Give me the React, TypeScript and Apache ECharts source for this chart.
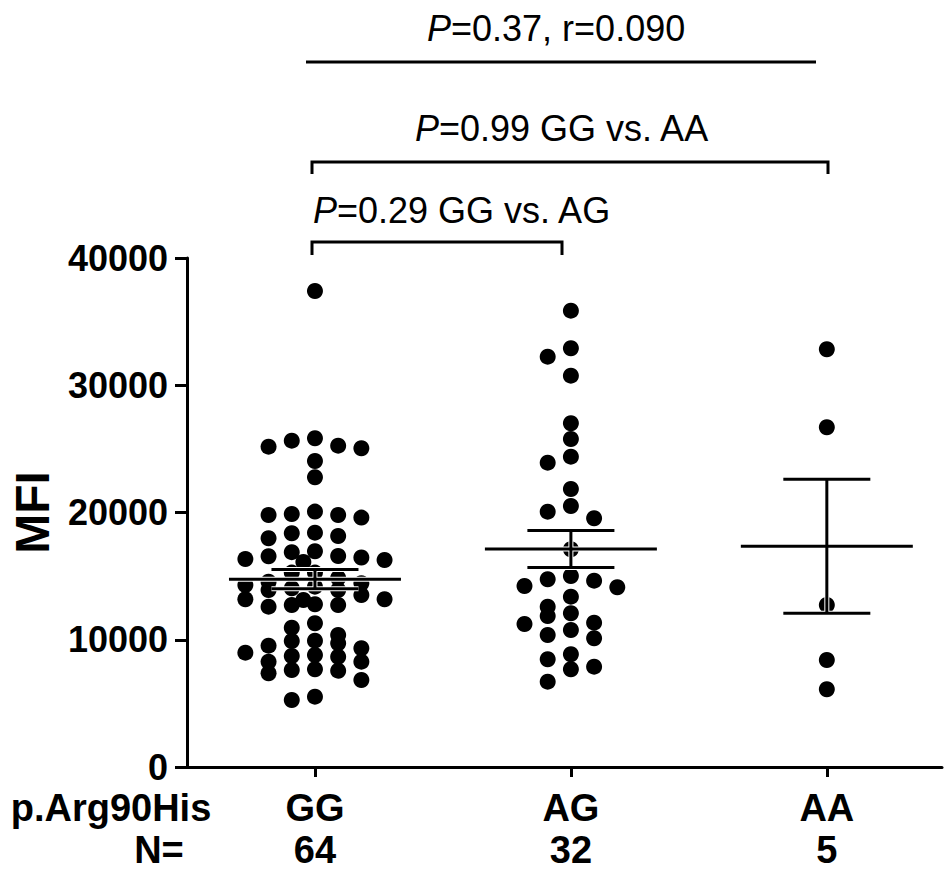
import React, { useEffect, useRef } from "react";
import * as echarts from "echarts";

// ---------- data ----------
const categories = ["GG", "AG", "AA"];
const groupSizes = ["64", "32", "5"];
const yTicks = [0, 10000, 20000, 30000, 40000];

const ggValues = [
  37410, 25645, 25172, 25046, 25251, 25833, 24049, 22767,
  20070, 19600, 19805, 19805, 19883, 18366, 17973, 18154, 18413,
  16582, 16465, 16268, 16952, 16111, 16347, 16559, 16881,
  15280, 14850, 14437, 15280, 14563, 14170, 13911, 13517, 13911, 14044, 14303,
  13180, 12732, 12598, 13124, 12732, 12787, 13180,
  10948, 11293, 10374, 9926, 8983, 9720, 8723, 9329, 8802, 9533, 9902, 8668,
  8276, 7678, 7623, 6837, 7364, 7568, 8276, 5265, 5525,
];
const agValues = [
  35861, 32906, 32247, 30752, 27012, 25777, 24386, 23915, 21848,
  20064, 20512, 19546, 17109, 15011, 14642, 14123, 13384, 14225, 14752,
  12079, 11341, 10767, 11238, 10374, 11867, 12598, 10114, 8857, 7883, 7678, 8464, 6704,
];
const aaValues = [32827, 26697, 12732, 8409, 6106];

const rowLabels = ["p.Arg90His", "N="];
const comparisonTexts = [
  ["P", "=0.37, r=0.090"],
  ["P", "=0.99 GG vs. AA"],
  ["P", "=0.29 GG vs. AG"],
];

// ---------- helpers ----------
const FONT = "'Liberation Sans', Arial, Helvetica, sans-serif";
const ROW_PX = 14;
const HALF_PITCH_PX = 11.6;

function mean(v: number[]) {
  return v.reduce((a, b) => a + b, 0) / v.length;
}
function sem(v: number[]) {
  const m = mean(v);
  const sd = Math.sqrt(v.reduce((a, b) => a + (b - m) * (b - m), 0) / (v.length - 1));
  return sd / Math.sqrt(v.length);
}

function swarm(values: number[], center: number, pxPerX: number, pxPerY: number) {
  const idx = values.map((_, i) => i).sort((a, b) => values[b] - values[a]);
  const slots = [0, -2, 2, -4, 4, -6, 6, -1, 1, -3, 3, -5, 5, -8, 8, -7, 7];
  const out: number[][] = [];
  let i = 0;
  while (i < idx.length) {
    const startPx = values[idx[i]] * pxPerY;
    const row: number[] = [];
    while (i < idx.length && startPx - values[idx[i]] * pxPerY < ROW_PX) {
      row.push(idx[i]);
      i++;
    }
    row.forEach((k, j) => {
      out.push([center + (slots[j] * HALF_PITCH_PX) / pxPerX, values[k]]);
    });
  }
  return out;
}

export default function App() {
  const ref = useRef<HTMLDivElement>(null);

  useEffect(() => {
    document.body.style.margin = "0";
    const chart = echarts.init(ref.current!, null, { renderer: "svg" });

    const axisLineStyle = { color: "#000", width: 3 };
    const textBase = { fontFamily: FONT, fontSize: 36, fill: "#000" };

    const graphic: any[] = [
      {
        type: "text",
        style: { text: rowLabels[0], x: 111, y: 808, align: "center", verticalAlign: "middle", fontFamily: FONT, fontSize: 38, fontWeight: "bold", fill: "#000" },
      },
      {
        type: "text",
        style: { text: rowLabels[1], x: 159, y: 850, align: "center", verticalAlign: "middle", fontFamily: FONT, fontSize: 38, fontWeight: "bold", fill: "#000" },
      },
      {
        type: "line",
        shape: { x1: 306, y1: 62, x2: 816, y2: 62 },
        style: { stroke: "#000", lineWidth: 3 },
      },
      {
        type: "polyline",
        shape: { points: [[312, 174], [312, 162], [828, 162], [828, 174]] },
        style: { stroke: "#000", lineWidth: 3, fill: null },
      },
      {
        type: "polyline",
        shape: { points: [[312, 255], [312, 242], [562, 242], [562, 255]] },
        style: { stroke: "#000", lineWidth: 3, fill: null },
      },
    ];
    const textPos = [
      [427, 28],
      [415, 128],
      [313, 210],
    ];
    comparisonTexts.forEach((t, i) => {
      graphic.push({
        type: "text",
        style: {
          text: `{i|${t[0]}}${t[1]}`,
          x: textPos[i][0],
          y: textPos[i][1],
          align: "left",
          verticalAlign: "middle",
          ...textBase,
          rich: { i: { fontStyle: "italic", fontFamily: FONT, fontSize: 36, fill: "#000" } },
        },
      });
    });

    chart.setOption({
      animation: false,
      backgroundColor: "#fff",
      grid: { left: 186, right: 4, top: 258, bottom: 107 },
      xAxis: {
        type: "value",
        min: -0.5,
        max: 2.45,
        splitLine: { show: false },
        axisLine: { onZero: false, lineStyle: axisLineStyle },
        axisTick: { show: true, customValues: [0, 1, 2], length: 10, lineStyle: axisLineStyle },
        axisLabel: {
          show: true,
          customValues: [0, 1, 2],
          margin: 20,
          formatter: (v: number) => `{c|${categories[Math.round(v)]}}\n{c|${groupSizes[Math.round(v)]}}`,
          rich: { c: { fontFamily: FONT, fontSize: 38, fontWeight: "bold", color: "#000", lineHeight: 42 } },
        },
      },
      yAxis: {
        type: "value",
        min: yTicks[0],
        max: yTicks[yTicks.length - 1],
        interval: yTicks[1] - yTicks[0],
        name: "MFI",
        nameLocation: "middle",
        nameGap: 131,
        nameTextStyle: { fontFamily: FONT, fontSize: 48, fontWeight: "bold", color: "#000" },
        splitLine: { show: false },
        axisLine: { show: true, onZero: false, lineStyle: axisLineStyle },
        axisTick: { show: true, length: 12, lineStyle: axisLineStyle },
        axisLabel: { fontFamily: FONT, fontSize: 36, fontWeight: "bold", color: "#000", margin: 19, formatter: (v: number) => String(v) },
      },
      graphic,
      series: [],
    });

    const o = chart.convertToPixel({ gridIndex: 0 }, [0, 0]) as number[];
    const a = chart.convertToPixel({ gridIndex: 0 }, [1, 10000]) as number[];
    const pxPerX = a[0] - o[0];
    const pxPerY = (o[1] - a[1]) / 10000;

    const groups = [ggValues, agValues, aaValues];
    const stats = groups.map((g, i) => [i, mean(g), sem(g)]);

    const scatterSeries = groups.map((g, i) => ({
      type: "scatter",
      name: categories[i],
      data: swarm(g, i, pxPerX, pxPerY),
      symbol: "circle",
      symbolSize: 16,
      itemStyle: { color: "#000", opacity: 1 },
      z: 2,
    }));

    const statSeries = {
      type: "custom",
      data: stats,
      z: 5,
      renderItem: (_p: any, api: any) => {
        const x = api.value(0);
        const m = api.value(1);
        const s = api.value(2);
        const segs = [
          [api.coord([x - 0.336, m]), api.coord([x + 0.336, m])],
          [api.coord([x, m + s]), api.coord([x, m - s])],
          [api.coord([x - 0.17, m + s]), api.coord([x + 0.17, m + s])],
          [api.coord([x - 0.17, m - s]), api.coord([x + 0.17, m - s])],
        ];
        const mk = (seg: number[][], color: string, w: number) => ({
          type: "line",
          shape: { x1: seg[0][0], y1: seg[0][1], x2: seg[1][0], y2: seg[1][1] },
          style: { stroke: color, lineWidth: w },
        });
        return {
          type: "group",
          children: [
            ...segs.map((sg) => mk(sg, "#fff", 5)),
            ...segs.map((sg) => mk(sg, "#000", 3)),
          ],
        };
      },
    };

    chart.setOption({ series: [...scatterSeries, statSeries] });

    return () => chart.dispose();
  }, []);

  return <div ref={ref} style={{ width: 946, height: 874 }} />;
}
